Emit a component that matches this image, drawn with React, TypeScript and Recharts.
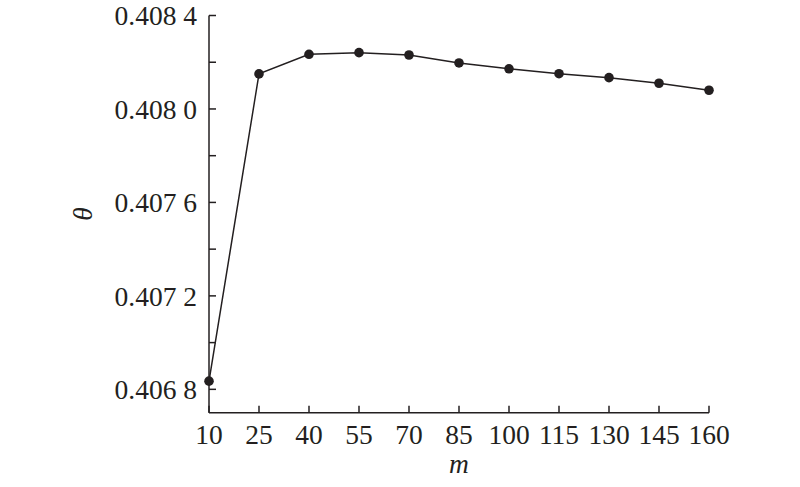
import React from 'react';
import { LineChart, Line, XAxis, YAxis, Label } from 'recharts';

const mValues = [10, 25, 40, 55, 70, 85, 100, 115, 130, 145, 160];
const thetaValues = [
  0.406835, 0.40815, 0.408234, 0.408241, 0.408231, 0.408197,
  0.408172, 0.408151, 0.408134, 0.40811, 0.40808,
];
const xTicks = [10, 25, 40, 55, 70, 85, 100, 115, 130, 145, 160];
const yTicks = [0.4068, 0.407, 0.4072, 0.4074, 0.4076, 0.4078, 0.408, 0.4082, 0.4084];
const yLabeled = [0.4068, 0.4072, 0.4076, 0.408, 0.4084];

const data = mValues.map((m, i) => ({ m, theta: thetaValues[i] }));

const FONT = '"Liberation Serif", "Times New Roman", serif';
const INK = '#231f20';
const FS = 27.5;

const fmtY = (v: number) => {
  const s = v.toFixed(4);
  return s.slice(0, -1) + ' ' + s.slice(-1);
};

// ticks point inward, so draw them by hand
const YTick = (props: any) => {
  const { x, y, payload } = props;
  const show = yLabeled.some(t => Math.abs(t - payload.value) < 1e-7);
  return (
    <g>
      <line x1={x} y1={y} x2={x + 7} y2={y} stroke={INK} strokeWidth={1.5} />
      {show && (
        <text x={x - 12} y={y} dy="0.35em" textAnchor="end" fontFamily={FONT} fontSize={FS} fill={INK}>
          {fmtY(payload.value)}
        </text>
      )}
    </g>
  );
};

const XTick = (props: any) => {
  const { x, y, payload } = props;
  return (
    <g>
      <line x1={x} y1={y} x2={x} y2={y - 7} stroke={INK} strokeWidth={1.5} />
      <text x={x} y={y + 31} textAnchor="middle" fontFamily={FONT} fontSize={FS} fill={INK}>
        {payload.value}
      </text>
    </g>
  );
};

export default function App() {
  return (
    <div style={{ position: 'absolute', left: 0, top: 0, background: '#fff' }}>
      <LineChart
        width={800}
        height={487}
        data={data}
        margin={{ top: 15.5, right: 91, bottom: 0, left: 0 }}
      >
        <XAxis
          dataKey="m"
          type="number"
          domain={[10, 160]}
          ticks={xTicks}
          height={74.3}
          tickSize={0}
          tickMargin={0}
          tickLine={false}
          tick={<XTick />}
          interval={0}
          stroke={INK}
          strokeWidth={1.5}
        >
          <Label
            value="m"
            position="insideBottom"
            offset={14}
            style={{ fontFamily: FONT, fontSize: FS, fontStyle: 'italic', fill: INK }}
          />
        </XAxis>
        <YAxis
          type="number"
          domain={[0.4067, 0.4084]}
          ticks={yTicks}
          width={209}
          tickSize={0}
          tickMargin={0}
          tickLine={false}
          tick={<YTick />}
          interval={0}
          allowDataOverflow
          stroke={INK}
          strokeWidth={1.5}
        >
          <Label
            value="θ"
            angle={-90}
            position="insideLeft"
            offset={82}
            style={{ fontFamily: FONT, fontSize: FS, fontStyle: 'italic', fill: INK, textAnchor: 'middle' }}
          />
        </YAxis>
        <Line
          type="linear"
          dataKey="theta"
          stroke={INK}
          strokeWidth={1.5}
          dot={{ r: 4.8, fill: INK, stroke: INK, strokeWidth: 0 }}
          isAnimationActive={false}
        />
      </LineChart>
    </div>
  );
}
